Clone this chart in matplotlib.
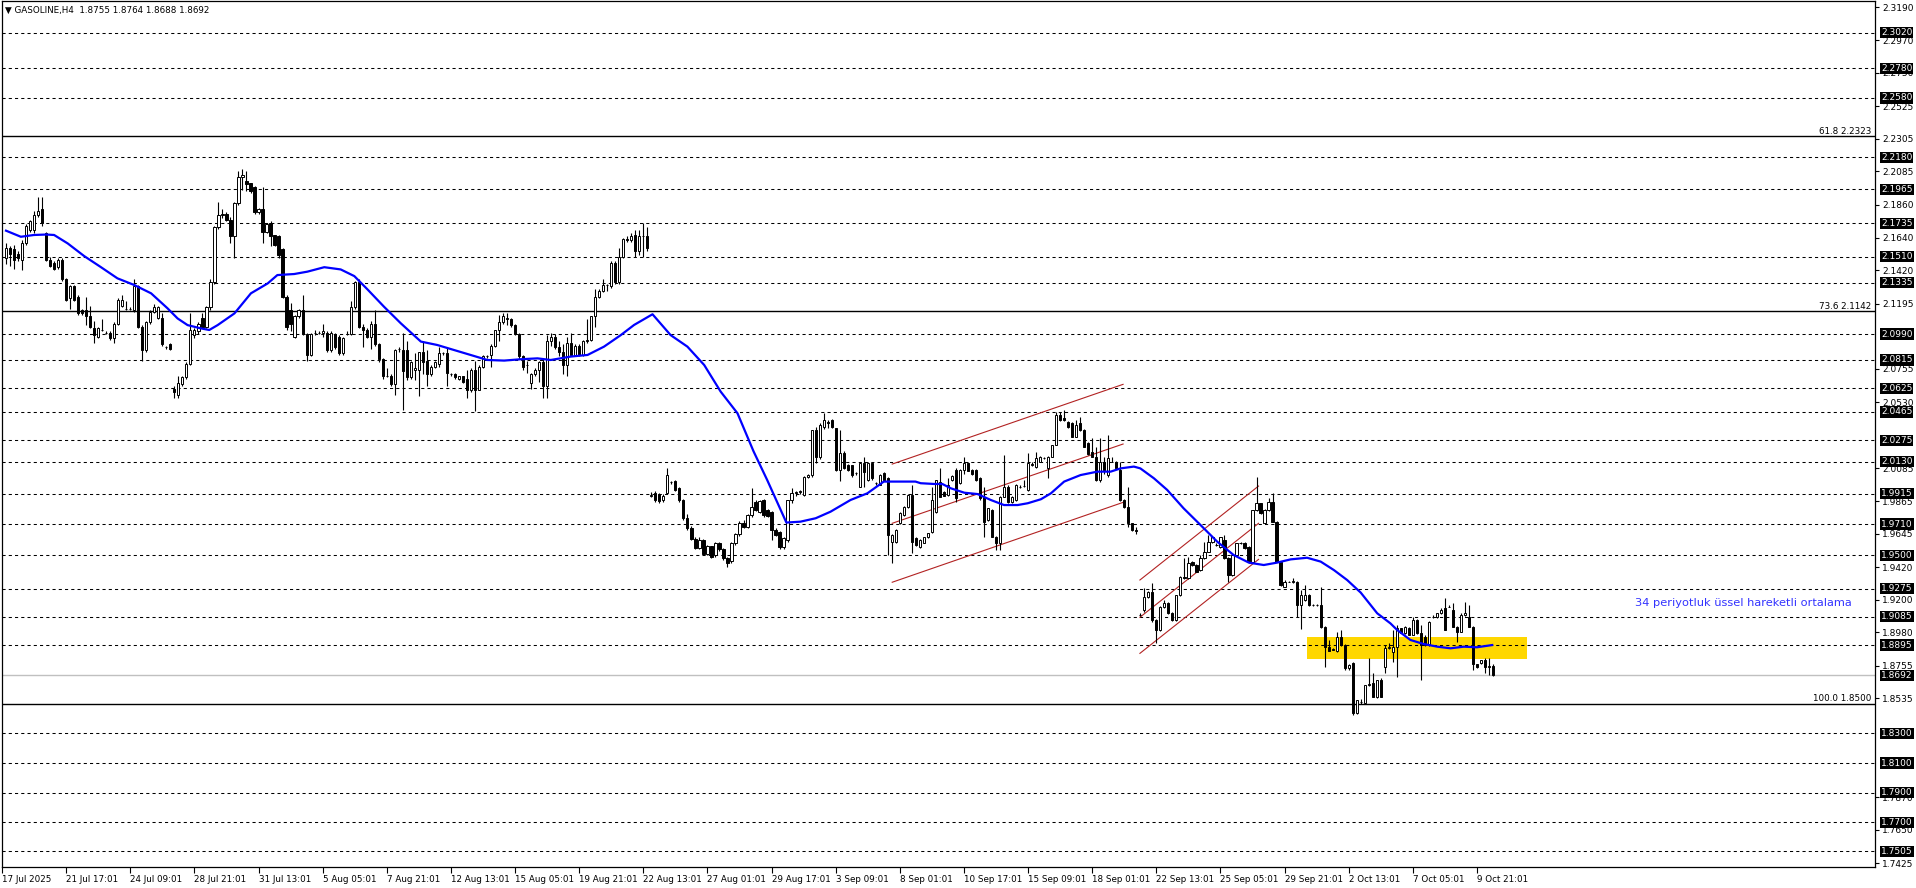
import matplotlib
matplotlib.use('Agg')
import matplotlib.pyplot as plt
import matplotlib.transforms as mtransforms
from matplotlib.patches import Rectangle
import numpy as np

# H4 candles, bar 0 = 17 Jul 2025 01:01
opens = [
    2.150, 2.157, 2.156, 2.153, 2.149, 2.160, 2.169, 2.169, 2.179, 2.183,
    2.167, 2.149, 2.147, 2.144, 2.149, 2.136, 2.123, 2.131, 2.124, 2.115,
    2.115, 2.111, 2.103, 2.097, 2.102, 2.100, 2.100, 2.096, 2.106, 2.118,
    2.116, 2.116, 2.115, 2.131, 2.104, 2.088, 2.107, 2.114, 2.110, 2.110,
    2.090, 2.092, 2.062, 2.058, 2.065, 2.070, 2.079, 2.098, 2.101, 2.110,
    2.104, 2.117, 2.134, 2.171, 2.179, 2.180, 2.176, 2.165, 2.187, 2.205,
    2.202, 2.201, 2.198, 2.181, 2.183, 2.168, 2.174, 2.166, 2.165, 2.156,
    2.124, 2.115, 2.097, 2.111, 2.115, 2.099, 2.085, 2.100, 2.100, 2.100,
    2.100, 2.088, 2.099, 2.097, 2.086, 2.099, 2.099, 2.117, 2.134, 2.104,
    2.102, 2.097, 2.106, 2.092, 2.082, 2.071, 2.071, 2.065, 2.089, 2.088,
    2.088, 2.070, 2.075, 2.075, 2.087, 2.081, 2.072, 2.077, 2.079, 2.086,
    2.086, 2.072, 2.072, 2.069, 2.071, 2.069, 2.061, 2.075, 2.061, 2.077,
    2.084, 2.085, 2.091, 2.102, 2.107, 2.109, 2.109, 2.105, 2.099, 2.084,
    2.078, 2.066, 2.072, 2.075, 2.080, 2.064, 2.094, 2.097, 2.090, 2.087,
    2.078, 2.093, 2.085, 2.091, 2.085, 2.094, 2.095, 2.111, 2.124, 2.128,
    2.132, 2.131, 2.147, 2.134, 2.151, 2.163, 2.162, 2.166, 2.155, 2.165, 2.165,
    1.990, 1.992, 1.991, 1.987, 1.992, 1.999, 2.000, 1.995, 1.987, 1.975,
    1.968, 1.961, 1.955, 1.960, 1.951, 1.956, 1.950, 1.958, 1.954, 1.948,
    1.946, 1.958, 1.964, 1.972, 1.969, 1.9771, 1.9861, 1.9794, 1.9872, 1.9805,
    1.9793, 1.9670, 1.9659, 1.9558, 1.9603, 1.9872, 1.9917, 1.9925, 1.9906, 2.0029,
    2.0040, 2.0344, 2.0164, 2.0361, 2.0400, 2.0411, 2.0355, 2.0074, 2.0186, 2.0108,
    2.0108, 2.0051, 1.9962, 2.0124, 2.0007, 2.0119, 1.9984, 1.9973, 2.0051, 2.0018,
    1.9591, 1.9591, 1.9715, 1.9771, 1.9827, 1.9906, 1.9614, 1.9558, 1.9585, 1.9620,
    1.9659, 1.9793, 1.9996, 1.9928, 1.9906, 2.0007, 2.0074, 1.9984, 2.0074, 2.0119,
    2.0074, 2.0074, 2.0018, 1.9895, 1.9738, 1.9805, 1.9625, 1.9580, 1.9895, 1.9962,
    1.9860, 1.9872, 1.9962, 1.9966, 1.9939, 2.0108, 2.0096, 2.0130, 2.0153, 2.0085,
    2.0164, 2.0243, 2.0445, 2.0422, 2.0400, 2.0389, 2.0299, 2.0389, 2.0344, 2.0254,
    2.0198, 2.0164, 2.0007, 2.0130, 2.0040, 2.0130, 2.0130, 2.0074, 1.9872, 1.9827,
    1.9715, 1.9670, 1.9100, 1.9131, 1.9221, 1.9255, 1.9064, 1.8996, 1.9153, 1.9180,
    1.9110, 1.9064, 1.9232, 1.9355, 1.9344, 1.9456, 1.9434, 1.9400, 1.9479, 1.9524,
    1.9591, 1.9569, 1.9558, 1.9600, 1.9479, 1.9367, 1.9502, 1.9580, 1.9580, 1.9558,
    1.9456, 1.9805, 1.9850, 1.9715, 1.9805, 1.9861, 1.9726, 1.9456, 1.9288, 1.9322,
    1.9318, 1.9322, 1.9165, 1.9200, 1.9232, 1.9165, 1.9165, 1.9165, 1.9019, 1.8884,
    1.8870, 1.8857, 1.8952, 1.8895, 1.8738, 1.8771, 1.8435, 1.8510, 1.8503, 1.8626,
    1.8641, 1.8547, 1.8660, 1.8749, 1.8873, 1.8850, 1.8884, 1.9007, 1.8974, 1.9007,
    1.8963, 1.9064, 1.8974, 1.8951, 1.8895, 1.9086, 1.9086, 1.9108, 1.9142, 1.9154,
    1.9131, 1.9019, 1.8985, 1.9097, 1.9086, 1.9018, 1.8767, 1.8771, 1.8793, 1.8749, 1.8755,
]
highs = [
    2.160, 2.158, 2.159, 2.155, 2.162, 2.173, 2.176, 2.182, 2.191, 2.191,
    2.168, 2.151, 2.148, 2.150, 2.150, 2.137, 2.132, 2.132, 2.125, 2.116,
    2.124, 2.118, 2.108, 2.104, 2.109, 2.101, 2.101, 2.107, 2.123, 2.125,
    2.121, 2.117, 2.136, 2.132, 2.105, 2.108, 2.115, 2.119, 2.118, 2.113,
    2.091, 2.093, 2.064, 2.071, 2.071, 2.080, 2.113, 2.103, 2.107, 2.113,
    2.118, 2.136, 2.172, 2.188, 2.183, 2.181, 2.178, 2.188, 2.209, 2.210,
    2.209, 2.201, 2.199, 2.184, 2.198, 2.174, 2.175, 2.166, 2.166, 2.157,
    2.125, 2.120, 2.112, 2.116, 2.125, 2.100, 2.100, 2.102, 2.101, 2.106,
    2.101, 2.101, 2.100, 2.098, 2.097, 2.101, 2.121, 2.135, 2.136, 2.106,
    2.103, 2.108, 2.115, 2.093, 2.083, 2.076, 2.072, 2.089, 2.090, 2.100,
    2.094, 2.081, 2.086, 2.087, 2.094, 2.088, 2.078, 2.081, 2.090, 2.087,
    2.090, 2.073, 2.073, 2.071, 2.071, 2.075, 2.076, 2.081, 2.078, 2.085,
    2.085, 2.092, 2.102, 2.112, 2.113, 2.113, 2.110, 2.106, 2.100, 2.085,
    2.081, 2.073, 2.076, 2.081, 2.083, 2.098, 2.100, 2.099, 2.094, 2.092,
    2.097, 2.100, 2.092, 2.092, 2.095, 2.109, 2.111, 2.129, 2.129, 2.136,
    2.133, 2.148, 2.148, 2.157, 2.164, 2.165, 2.167, 2.169, 2.169, 2.174, 2.171,
    1.9925, 1.993, 1.992, 1.991, 2.009, 2.000, 2.001, 1.996, 1.988, 1.978,
    1.970, 1.962, 1.962, 1.961, 1.957, 1.9565, 1.959, 1.959, 1.955, 1.949,
    1.959, 1.965, 1.973, 1.974, 1.978, 1.9955, 1.9875, 1.9875, 1.9880, 1.9810,
    1.9800, 1.9680, 1.9665, 1.9625, 1.9875, 1.9950, 1.9935, 1.9940, 2.0035, 2.0045,
    2.0345, 2.0366, 2.0390, 2.0456, 2.0410, 2.0420, 2.0360, 2.0344, 2.0200, 2.0115,
    2.0110, 2.0060, 2.0125, 2.0164, 2.0125, 2.0125, 1.9990, 2.0045, 2.0060, 2.0025,
    1.9640, 1.9675, 1.9790, 1.9830, 1.9910, 1.9973, 1.9620, 1.9610, 1.9625, 1.9650,
    1.9960, 2.0010, 2.0085, 1.9935, 2.0020, 2.0040, 2.0085, 2.0080, 2.0164, 2.0125,
    2.0080, 2.0080, 2.0025, 1.9962, 1.9820, 1.9810, 1.9630, 1.9900, 2.0175, 1.9970,
    1.9900, 1.9980, 1.9970, 2.0005, 2.0187, 2.0125, 2.0198, 2.0165, 2.0160, 2.0170,
    2.0245, 2.0467, 2.0467, 2.0478, 2.0405, 2.0395, 2.0411, 2.0433, 2.0350, 2.0260,
    2.0287, 2.0231, 2.0287, 2.0164, 2.0310, 2.0164, 2.0135, 2.0130, 1.9880, 1.9960,
    1.9720, 1.9690, 1.9110, 1.9277, 1.9260, 1.9311, 1.9070, 1.9160, 1.9200, 1.9185,
    1.9115, 1.9235, 1.9360, 1.9479, 1.9490, 1.9460, 1.9440, 1.9500, 1.9591, 1.9636,
    1.9625, 1.9585, 1.9625, 1.9636, 1.9485, 1.9505, 1.9585, 1.9590, 1.9590, 1.9565,
    1.9805, 2.0029, 1.9855, 1.9810, 1.9883, 1.9917, 1.9730, 1.9460, 1.9335, 1.9325,
    1.9345, 1.9325, 1.9266, 1.9300, 1.9240, 1.9170, 1.9170, 1.9288, 1.9025, 1.8929,
    1.8875, 1.8985, 1.8996, 1.8900, 1.8765, 1.8780, 1.8525, 1.8530, 1.8626, 1.8806,
    1.8705, 1.8660, 1.8671, 1.8895, 1.8907, 1.8996, 1.9030, 1.9010, 1.9020, 1.9015,
    1.9086, 1.9070, 1.9030, 1.8960, 1.9055, 1.9097, 1.9110, 1.9142, 1.9210, 1.9165,
    1.9180, 1.9025, 1.9110, 1.9188, 1.9165, 1.9020, 1.8770, 1.8795, 1.8805, 1.8805, 1.8764,
]
lows = [
    2.146, 2.145, 2.143, 2.148, 2.142, 2.159, 2.168, 2.167, 2.178, 2.172,
    2.148, 2.144, 2.142, 2.143, 2.135, 2.121, 2.116, 2.121, 2.112, 2.112,
    2.105, 2.103, 2.093, 2.096, 2.101, 2.099, 2.095, 2.093, 2.105, 2.117,
    2.115, 2.115, 2.114, 2.103, 2.081, 2.087, 2.106, 2.113, 2.109, 2.091,
    2.089, 2.088, 2.056, 2.056, 2.064, 2.069, 2.078, 2.096, 2.099, 2.103,
    2.103, 2.115, 2.133, 2.170, 2.177, 2.175, 2.160, 2.150, 2.186, 2.196,
    2.195, 2.194, 2.180, 2.180, 2.160, 2.167, 2.158, 2.158, 2.150, 2.123,
    2.102, 2.101, 2.096, 2.110, 2.098, 2.081, 2.084, 2.098, 2.099, 2.097,
    2.087, 2.087, 2.089, 2.085, 2.085, 2.098, 2.098, 2.116, 2.103, 2.090,
    2.096, 2.089, 2.091, 2.080, 2.069, 2.070, 2.064, 2.058, 2.087, 2.048,
    2.068, 2.069, 2.068, 2.057, 2.072, 2.064, 2.071, 2.076, 2.077, 2.085,
    2.064, 2.071, 2.069, 2.068, 2.066, 2.056, 2.060, 2.047, 2.061, 2.076,
    2.083, 2.077, 2.090, 2.094, 2.106, 2.105, 2.104, 2.098, 2.082, 2.075,
    2.073, 2.062, 2.071, 2.067, 2.056, 2.056, 2.091, 2.089, 2.084, 2.072,
    2.071, 2.084, 2.084, 2.084, 2.084, 2.093, 2.094, 2.104, 2.123, 2.127,
    2.128, 2.130, 2.133, 2.133, 2.150, 2.161, 2.161, 2.151, 2.152, 2.151, 2.155,
    1.989, 1.986, 1.9855, 1.986, 1.991, 1.998, 1.993, 1.986, 1.974, 1.967,
    1.960, 1.954, 1.9545, 1.950, 1.950, 1.948, 1.949, 1.953, 1.947, 1.942,
    1.945, 1.957, 1.963, 1.968, 1.968, 1.9757, 1.9795, 1.9785, 1.9760, 1.9760,
    1.9603, 1.9630, 1.9540, 1.9545, 1.9590, 1.9850, 1.9900, 1.9915, 1.9900, 2.0020,
    2.0030, 2.0119, 2.0150, 2.0350, 2.0360, 2.0360, 2.0070, 2.0000, 2.0080, 2.0070,
    2.0030, 2.0040, 1.9960, 1.9962, 2.0000, 2.0010, 1.9975, 1.9970, 2.0000, 1.9500,
    1.9446, 1.9585, 1.9710, 1.9765, 1.9820, 1.9513, 1.9560, 1.9550, 1.9580, 1.9615,
    1.9650, 1.9785, 1.9890, 1.9900, 1.9900, 2.0000, 1.9860, 1.9980, 2.0050, 2.0065,
    2.0040, 2.0000, 1.9870, 1.9625, 1.9730, 1.9625, 1.9535, 1.9535, 1.9890, 1.9855,
    1.9855, 1.9865, 1.9955, 1.9960, 1.9930, 2.0100, 2.0090, 2.0125, 2.0145, 2.0018,
    2.0160, 2.0240, 2.0405, 2.0405, 2.0360, 2.0295, 2.0295, 2.0340, 2.0230, 2.0175,
    2.0160, 2.0000, 1.9990, 2.0050, 2.0030, 2.0125, 2.0080, 1.9865, 1.9820, 1.9690,
    1.9660, 1.9640, 1.9090, 1.9120, 1.9215, 1.9050, 1.8907, 1.8990, 1.9145, 1.9105,
    1.9060, 1.9060, 1.9225, 1.9340, 1.9340, 1.9430, 1.9385, 1.9395, 1.9475, 1.9520,
    1.9585, 1.9560, 1.9550, 1.9475, 1.9322, 1.9360, 1.9495, 1.9575, 1.9545, 1.9450,
    1.9450, 1.9800, 1.9780, 1.9710, 1.9800, 1.9725, 1.9455, 1.9295, 1.9285, 1.9318,
    1.9315, 1.9086, 1.9000, 1.9190, 1.9160, 1.9160, 1.9160, 1.9010, 1.8749, 1.8855,
    1.8860, 1.8850, 1.8890, 1.8727, 1.8730, 1.8424, 1.8430, 1.8500, 1.8500, 1.8620,
    1.8545, 1.8540, 1.8545, 1.8705, 1.8870, 1.8783, 1.8682, 1.8974, 1.8970, 1.8960,
    1.8960, 1.8970, 1.8660, 1.8890, 1.8890, 1.9080, 1.9080, 1.9105, 1.8996, 1.9150,
    1.9018, 1.8918, 1.8980, 1.9090, 1.9015, 1.8727, 1.8740, 1.8765, 1.8705, 1.8695, 1.8688,
]
closes = [
    2.157, 2.153, 2.149, 2.150, 2.160, 2.172, 2.175, 2.179, 2.182, 2.174,
    2.149, 2.145, 2.143, 2.149, 2.136, 2.122, 2.131, 2.122, 2.113, 2.113,
    2.111, 2.104, 2.098, 2.103, 2.102, 2.100, 2.096, 2.106, 2.122, 2.122,
    2.116, 2.116, 2.131, 2.104, 2.088, 2.107, 2.114, 2.117, 2.117, 2.092,
    2.090, 2.089, 2.060, 2.066, 2.070, 2.079, 2.102, 2.102, 2.106, 2.104,
    2.117, 2.134, 2.171, 2.179, 2.180, 2.176, 2.165, 2.187, 2.205, 2.206,
    2.200, 2.195, 2.181, 2.183, 2.168, 2.173, 2.165, 2.159, 2.152, 2.124,
    2.104, 2.106, 2.111, 2.115, 2.099, 2.085, 2.099, 2.100, 2.100, 2.101,
    2.088, 2.100, 2.090, 2.086, 2.096, 2.099, 2.117, 2.134, 2.104, 2.102,
    2.097, 2.106, 2.092, 2.082, 2.071, 2.071, 2.065, 2.088, 2.089, 2.074,
    2.070, 2.080, 2.076, 2.087, 2.080, 2.072, 2.077, 2.080, 2.086, 2.086,
    2.073, 2.072, 2.070, 2.071, 2.067, 2.061, 2.075, 2.061, 2.077, 2.084,
    2.084, 2.091, 2.102, 2.107, 2.111, 2.110, 2.105, 2.099, 2.084, 2.077,
    2.078, 2.072, 2.075, 2.080, 2.064, 2.094, 2.097, 2.090, 2.087, 2.078,
    2.093, 2.085, 2.091, 2.085, 2.094, 2.095, 2.111, 2.124, 2.128, 2.132,
    2.132, 2.147, 2.134, 2.151, 2.163, 2.162, 2.165, 2.155, 2.165, 2.165, 2.157,
    1.9905, 1.987, 1.9865, 1.990, 2.004, 1.999, 1.994, 1.987, 1.975, 1.968,
    1.961, 1.955, 1.960, 1.951, 1.956, 1.949, 1.958, 1.954, 1.948, 1.945,
    1.958, 1.964, 1.972, 1.969, 1.977, 1.9827, 1.9805, 1.9868, 1.9771, 1.9767,
    1.9670, 1.9636, 1.9558, 1.9614, 1.9872, 1.9917, 1.9928, 1.9930, 2.0029, 2.0040,
    2.0344, 2.0164, 2.0377, 2.0411, 2.0390, 2.0366, 2.0074, 2.0186, 2.0085, 2.0074,
    2.0040, 2.0051, 2.0119, 2.0063, 2.0124, 2.0018, 1.9984, 2.0040, 2.0007, 1.9636,
    1.9636, 1.9670, 1.9782, 1.9827, 1.9906, 1.9591, 1.9569, 1.9603, 1.9620, 1.9647,
    1.9872, 2.0007, 1.9895, 1.9901, 1.9973, 2.0036, 1.9883, 2.0074, 2.0124, 2.0070,
    2.0047, 2.0007, 1.9883, 1.9726, 1.9816, 1.9625, 1.9580, 1.9895, 1.9962, 1.9860,
    1.9895, 1.9973, 1.9962, 1.9966, 2.0119, 2.0115, 2.0153, 2.0159, 2.0153, 2.0164,
    2.0243, 2.0445, 2.0411, 2.0411, 2.0366, 2.0299, 2.0377, 2.0344, 2.0232, 2.0182,
    2.0164, 2.0007, 2.0130, 2.0074, 2.0153, 2.0130, 2.0085, 1.9872, 1.9827, 1.9715,
    1.9670, 1.9660, 1.9100, 1.9221, 1.9255, 1.9064, 1.8996, 1.9153, 1.9176, 1.9110,
    1.9064, 1.9232, 1.9355, 1.9344, 1.9445, 1.9434, 1.9389, 1.9479, 1.9524, 1.9591,
    1.9620, 1.9569, 1.9625, 1.9479, 1.9367, 1.9502, 1.9580, 1.9585, 1.9546, 1.9456,
    1.9805, 1.9850, 1.9782, 1.9805, 1.9861, 1.9726, 1.9456, 1.9299, 1.9322, 1.9322,
    1.9327, 1.9165, 1.9232, 1.9232, 1.9165, 1.9165, 1.9165, 1.9019, 1.8884, 1.8857,
    1.8862, 1.8952, 1.8895, 1.8738, 1.8760, 1.8435, 1.8525, 1.8514, 1.8626, 1.8630,
    1.8547, 1.8660, 1.8547, 1.8873, 1.8884, 1.8884, 1.9007, 1.8974, 1.9019, 1.8963,
    1.9064, 1.8974, 1.8895, 1.8895, 1.9052, 1.9086, 1.9108, 1.9131, 1.8996, 1.9154,
    1.9019, 1.8985, 1.9097, 1.9108, 1.9018, 1.8767, 1.8749, 1.8793, 1.8749, 1.8752, 1.8692,
]

# 34-period EMA as drawn (bar position, value)
ema_bars = [0, 3.7, 7, 10, 12, 15.4, 19.5, 23.7, 27.8, 32, 36.2, 40.3, 42.8, 45.3,
            48.6, 50.7, 52.8, 57, 61.1, 65.3, 67.7, 71.9, 75.2, 79.4, 83.5, 86.9,
            90.2, 94.3, 98.5, 103.5, 107.6, 111.8, 115.9, 120.1, 124.3, 128.4,
            132.6, 135.9, 140.9, 145.1, 149.2, 153.4, 156.7, 161.3, 165.8, 170,
            174.2, 178.3, 182.5, 186.5, 189.9, 194.7, 198.2, 202, 205.7, 210.7,
            214.9, 219, 223.2, 226.9, 228.2, 231.5, 233.6, 235.7, 239.1, 242.4,
            245.7, 249, 252.4, 254.9, 258.2, 260.7, 264, 268.1, 272.3, 275.6,
            278.1, 281.4, 283, 286.4, 289.7, 293.8, 298, 302.2, 306.3, 310.1,
            313.8, 317.1, 320.5, 324.6, 328, 331.3, 334.6, 338, 342.1, 345.4,
            347.1, 350.4, 353.7, 357.1, 360.4, 363.7, 367, 370.8]
ema_vals = [2.1686, 2.1645, 2.1657, 2.1660, 2.1657, 2.1600, 2.1515, 2.1440, 2.1365,
            2.1320, 2.1264, 2.1163, 2.1095, 2.1050, 2.1028, 2.1017, 2.1050, 2.1129,
            2.1264, 2.1331, 2.1387, 2.1394, 2.1410, 2.1440, 2.1425, 2.1380, 2.1290,
            2.1174, 2.1062, 2.0939, 2.0916, 2.0882, 2.0849, 2.0815, 2.0811, 2.0820,
            2.0826, 2.0815, 2.0838, 2.0849, 2.0905, 2.0983, 2.1051, 2.1123, 2.0983,
            2.0905, 2.0781, 2.0602, 2.0456, 2.0200, 2.0007, 1.9720, 1.9726, 1.9749,
            1.9793, 1.9872, 1.9917, 1.9996, 1.9996, 1.9996, 1.9985, 1.9980, 1.9980,
            1.9951, 1.9921, 1.9912, 1.9872, 1.9838, 1.9838, 1.9850, 1.9877, 1.9917,
            1.9996, 2.0040, 2.0063, 2.0063, 2.0085, 2.0097, 2.0085, 2.0018, 1.9940,
            1.9816, 1.9704, 1.9591, 1.9501, 1.9450, 1.9434, 1.9450, 1.9472, 1.9483,
            1.9457, 1.9400, 1.9333, 1.9248, 1.9109, 1.9041, 1.8996, 1.8929, 1.8902,
            1.8884, 1.8873, 1.8884, 1.8880, 1.8895]

dashed_levels = [2.3020, 2.2780, 2.2580, 2.2180, 2.1965, 2.1735, 2.1510, 2.1335,
                 2.0990, 2.0815, 2.0625, 2.0465, 2.0275, 2.0130, 1.9915, 1.9710,
                 1.9500, 1.9275, 1.9085, 1.8895, 1.8300, 1.8100, 1.7900, 1.7700,
                 1.7505]
fib_levels = [2.2323, 2.1142, 1.8500]
fib_names = ['61.8', '73.6', '100.0']
last_price = 1.8692
# scale labels left visible beside the black level boxes
axis_ticks = [2.3190, 2.2970, 2.2750, 2.2525, 2.2305, 2.2085, 2.1860, 2.1640,
              2.1420, 2.1195, 2.0755, 2.0530, 2.0085, 1.9865,
              1.9645, 1.9420, 1.9200, 1.8980, 1.8755, 1.8535,
              1.7870, 1.7650, 1.7425]
x_labels = ['17 Jul 2025', '21 Jul 17:01', '24 Jul 09:01', '28 Jul 21:01',
            '31 Jul 13:01', '5 Aug 05:01', '7 Aug 21:01', '12 Aug 13:01',
            '15 Aug 05:01', '19 Aug 21:01', '22 Aug 13:01', '27 Aug 01:01',
            '29 Aug 17:01', '3 Sep 09:01', '8 Sep 01:01', '10 Sep 17:01',
            '15 Sep 09:01', '18 Sep 01:01', '22 Sep 13:01', '25 Sep 05:01',
            '29 Sep 21:01', '2 Oct 13:01', '7 Oct 05:01', '9 Oct 21:01']
x_label_bars = [16 * i for i in range(len(x_labels))]

# trend channels: (bar0, price0, bar1, price1)
channel_lines = [
    (221.1, 2.0114, 278.7, 2.0651),
    (221.1, 1.9715, 278.7, 2.0249),
    (221.1, 1.9318, 278.7, 1.9856),
    (282.9, 1.9333, 312.5, 1.9966),
    (282.9, 1.9082, 312.5, 1.9715),
    (282.9, 1.8839, 312.5, 1.9472),
]
zone_bars = (324.7, 379.6)
zone_prices = (1.8801, 1.8951)
ema_note = '34 periyotluk üssel hareketli ortalama'
note_pos = (406.5, 1.9180)
title = '▼ GASOLINE,H4  1.8755 1.8764 1.8688 1.8692'

W, H = 1916, 888
fig = plt.figure(figsize=(W / 100, H / 100), dpi=100)
ax = fig.add_axes([2 / W, 21 / H, 1873 / W, 866 / H])
ax.set_xlim(-0.75, 466.3)
ax.set_ylim(1.7400, 2.3233)

o = np.array(opens); h = np.array(highs); l = np.array(lows); c = np.array(closes)
idx = np.arange(len(c))

ax.add_patch(Rectangle((zone_bars[0], zone_prices[0]), zone_bars[1] - zone_bars[0],
                       zone_prices[1] - zone_prices[0], facecolor='#ffd700',
                       edgecolor='none', zorder=0.5))

for lv in dashed_levels:
    ax.axhline(lv, color='black', lw=0.75, ls=(0, (3, 3)), zorder=1)
for lv in fib_levels:
    ax.axhline(lv, color='black', lw=1.0, zorder=1)
ax.axhline(last_price, color='#c0c0c0', lw=1.0, zorder=1)

for b0, p0, b1, p1 in channel_lines:
    ax.plot([b0, b1], [p0, p1], color='#b22222', lw=0.8, zorder=2)

ax.vlines(idx, l, h, color='black', lw=0.8, zorder=3)
up = c >= o
bot = np.minimum(o, c)
hgt = np.abs(c - o)
ax.bar(idx[up], hgt[up], bottom=bot[up], width=0.55, facecolor='white',
       edgecolor='black', linewidth=0.7, zorder=4)
ax.bar(idx[~up], hgt[~up], bottom=bot[~up], width=0.55, facecolor='black',
       edgecolor='black', linewidth=0.7, zorder=4)

ax.plot(ema_bars, ema_vals, color='#0000ff', lw=1.6, zorder=5)

ax.text(note_pos[0], note_pos[1], ema_note, color='#3333ff', fontsize=8.2,
        ha='left', va='center', zorder=6)

# right price scale
ax.yaxis.tick_right()
ax.set_yticks(axis_ticks)
ax.set_yticklabels(['%.4f' % t for t in axis_ticks])
ax.tick_params(axis='y', direction='out', length=3, pad=2, labelsize=6.5,
               colors='black')
trans = mtransforms.blended_transform_factory(ax.transAxes, ax.transData)
xoff = 1.0 + 6 / 1873
for lv in dashed_levels + [last_price]:
    ax.text(xoff, lv, '%.4f' % lv, transform=trans, ha='left', va='center',
            color='white', fontsize=6.5, zorder=10, clip_on=False,
            bbox=dict(boxstyle='square,pad=0.12', fc='black', ec='none'))
for lv, nm in zip(fib_levels, fib_names):
    ax.text(1 - 4 / 1873, lv + 0.0004, '%s %.4f' % (nm, lv), transform=trans,
            ha='right', va='bottom', fontsize=6.3, color='black', zorder=6)

# time scale
ax.set_xticks(np.array(x_label_bars) - 1.0)
ax.set_xticklabels(x_labels, ha='left', fontsize=6.3)
ax.tick_params(axis='x', direction='out', length=4, pad=1.5)

for sp in ax.spines.values():
    sp.set_color('black')
    sp.set_linewidth(0.9)

fig.text(5 / W, 1 - 10 / H, title, fontsize=6.3, ha='left', va='center')

fig.savefig('out.png', dpi=100)
